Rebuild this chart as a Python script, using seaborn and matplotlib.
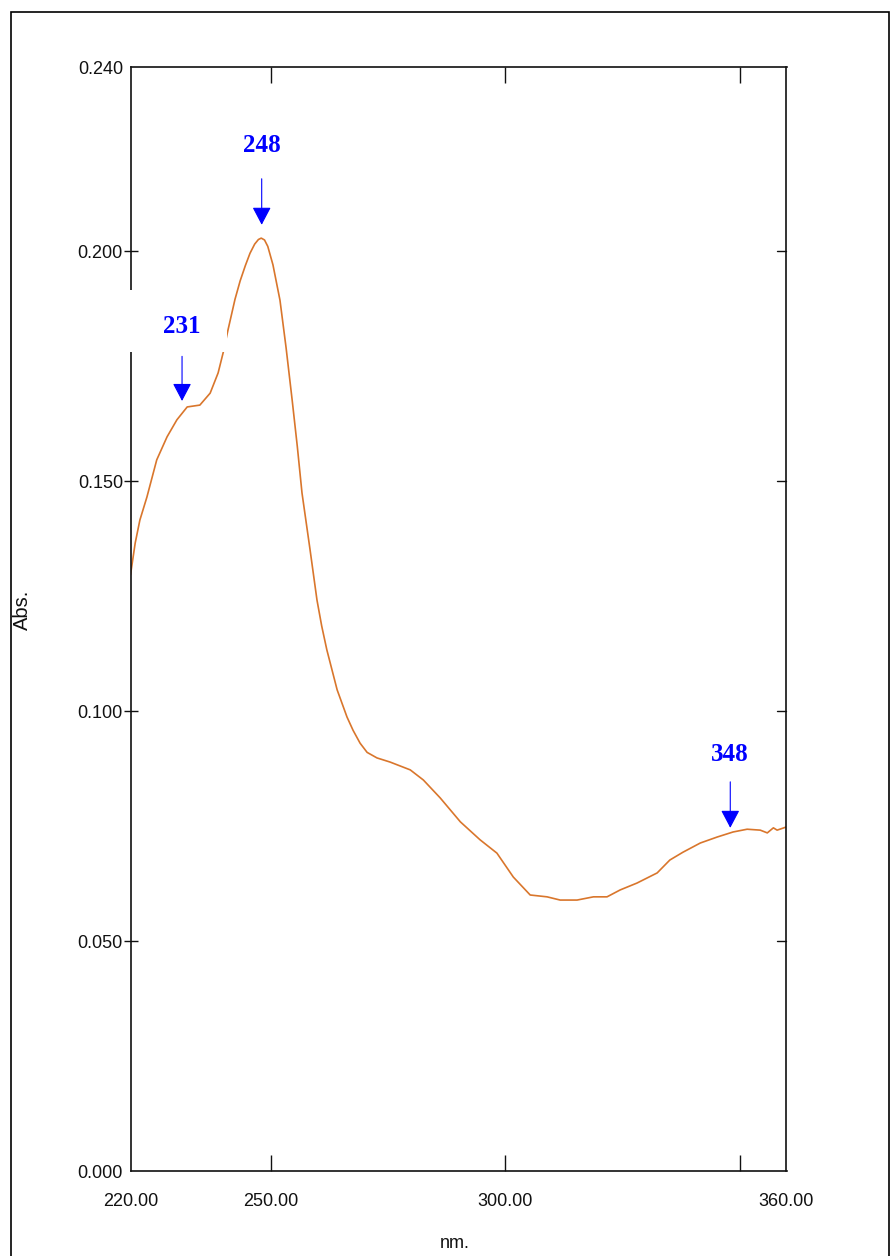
import matplotlib
matplotlib.use("Agg")
import matplotlib.pyplot as plt
import matplotlib.font_manager as fm
from matplotlib.patches import Rectangle
from matplotlib.ticker import FixedLocator, NullFormatter
import seaborn as sns
import pandas as pd

# UV absorption spectrum
wavelength = [220.0, 221.0, 222.0, 223.5, 225.6, 227.8, 229.9, 232.1, 234.8, 237.0,
              238.7, 239.8, 240.8, 242.3, 243.4, 244.5, 245.5, 246.5, 247.3, 247.9,
              248.6, 249.3, 250.4, 251.9, 253.2, 254.5, 255.6, 256.6, 258.3, 259.8,
              260.8, 261.9, 264.1, 266.2, 267.5, 269.0, 270.5, 272.6, 275.4, 279.7,
              282.5, 286.1, 290.4, 294.6, 298.2, 301.7, 305.3, 308.9, 311.7, 315.3,
              318.8, 321.7, 324.5, 328.1, 332.4, 335.1, 337.9, 341.6, 345.2, 348.6,
              351.6, 354.4, 355.9, 357.2, 358.0, 360.0]
absorbance = [0.1296, 0.1365, 0.1415, 0.1465, 0.1546, 0.1596, 0.1633, 0.1661, 0.1665, 0.1691,
              0.1735, 0.1780, 0.1828, 0.1895, 0.1935, 0.1968, 0.1995, 0.2015, 0.2025, 0.2028,
              0.2024, 0.2010, 0.1970, 0.1893, 0.1790, 0.1676, 0.1575, 0.1474, 0.1352, 0.1241,
              0.1185, 0.1133, 0.1046, 0.0987, 0.0958, 0.0930, 0.0910, 0.0898, 0.0889, 0.0872,
              0.0850, 0.0811, 0.0759, 0.0720, 0.0691, 0.0639, 0.0600, 0.0596, 0.0589, 0.0589,
              0.0596, 0.0596, 0.0611, 0.0626, 0.0648, 0.0676, 0.0693, 0.0713, 0.0726, 0.0737,
              0.0743, 0.0741, 0.0735, 0.0746, 0.0741, 0.0748]

# Peak markers: wavelength, arrow tip, arrow tail, label height
peak_nm = [231, 248, 348]
peak_tip = [0.1674, 0.2057, 0.0746]
peak_tail = [0.1771, 0.2157, 0.0846]
peak_label_y = [0.1835, 0.2230, 0.0905]

x_tick_values = [220, 250, 300, 360]
x_tick_labels = ["220.00", "250.00", "300.00", "360.00"]
x_marks = [250, 300, 350]
y_tick_values = [0.0, 0.05, 0.10, 0.15, 0.20, 0.24]
y_tick_labels = ["0.000", "0.050", "0.100", "0.150", "0.200", "0.240"]
y_marks = [0.05, 0.10, 0.15, 0.20]

sns.set_style("white")
avail = {f.name for f in fm.fontManager.ttflist}
narrow = "Liberation Sans Narrow" if "Liberation Sans Narrow" in avail else "Liberation Sans"
tick_size = 14 if narrow == "Liberation Sans Narrow" else 13
plt.rcParams["font.family"] = [narrow, "DejaVu Sans"]

W, H = 891, 1256
fig = plt.figure(figsize=(W / 100, H / 100), dpi=100)
ax = fig.add_axes([130.5 / W, 1 - 1171 / H, (786.5 - 130.5) / W, (1171 - 67) / H])

df = pd.DataFrame({"nm": wavelength, "Abs": absorbance})
sns.lineplot(data=df, x="nm", y="Abs", ax=ax, color="#d9762c", linewidth=1.2, zorder=2)

ax.set_xlim(220, 360)
ax.set_ylim(0, 0.24)
ax.set_xlabel("")
ax.set_ylabel("")

for s in ax.spines.values():
    s.set_visible(True)
    s.set_linewidth(1.2)
    s.set_color("#111111")

ax.set_xticks(x_tick_values)
ax.set_xticklabels(x_tick_labels)
ax.set_yticks(y_tick_values)
ax.set_yticklabels(y_tick_labels)
ax.tick_params(axis="x", which="major", length=0, pad=15.5, labelsize=tick_size, labelcolor="#111111")
ax.tick_params(axis="y", which="major", length=0, pad=5.4, labelsize=tick_size, labelcolor="#111111")

ax.xaxis.remove_overlapping_locs = False
ax.yaxis.remove_overlapping_locs = False
ax.xaxis.set_minor_locator(FixedLocator(x_marks))
ax.xaxis.set_minor_formatter(NullFormatter())
ax.yaxis.set_minor_locator(FixedLocator(y_marks))
ax.yaxis.set_minor_formatter(NullFormatter())
ax.tick_params(axis="x", which="minor", direction="in", length=11.5, width=1.0,
               top=True, bottom=True, color="#111111")
ax.tick_params(axis="y", which="minor", left=True, right=False, direction="inout",
               length=9.5, width=1.0, color="#111111")
# right-hand marks point inward
for yv in y_marks:
    ax.plot([1.0, 1.0 - 9 / 656], [yv, yv], transform=ax.get_yaxis_transform(),
            color="#111111", lw=1.0, clip_on=False, zorder=3)

# white label box near the shoulder
ax.add_patch(Rectangle((219.5, 0.1780), 21.1, 0.0135, facecolor="white",
                       edgecolor="none", zorder=3, clip_on=False))

for nm, tip, tail, ly in zip(peak_nm, peak_tip, peak_tail, peak_label_y):
    ax.annotate("", xy=(nm, tip), xytext=(nm, tail),
                arrowprops=dict(arrowstyle="-|>,head_length=0.55,head_width=0.29",
                                color="#0000ff", lw=0.8, shrinkA=0, shrinkB=0,
                                mutation_scale=20),
                zorder=4)
    ax.text(nm, ly, str(nm), ha="center", va="center", fontsize=18,
            fontweight="bold", family="Liberation Serif", color="#0000ff", zorder=5)

fig.text(455 / W, 1 - 1243 / H, "nm.", ha="center", va="center",
         fontsize=tick_size, color="#111111")
fig.text(22 / W, 1 - 610 / H, "Abs.", ha="center", va="center", rotation=90,
         fontsize=14.5, family=["Liberation Sans", "DejaVu Sans"], color="#111111")

# outer frame
fig.add_artist(Rectangle((11 / W, -0.02), (889.5 - 11) / W, 1.02 - 12 / H,
                         transform=fig.transFigure, facecolor="none",
                         edgecolor="black", lw=1.2))

fig.savefig("out.png", dpi=100)
